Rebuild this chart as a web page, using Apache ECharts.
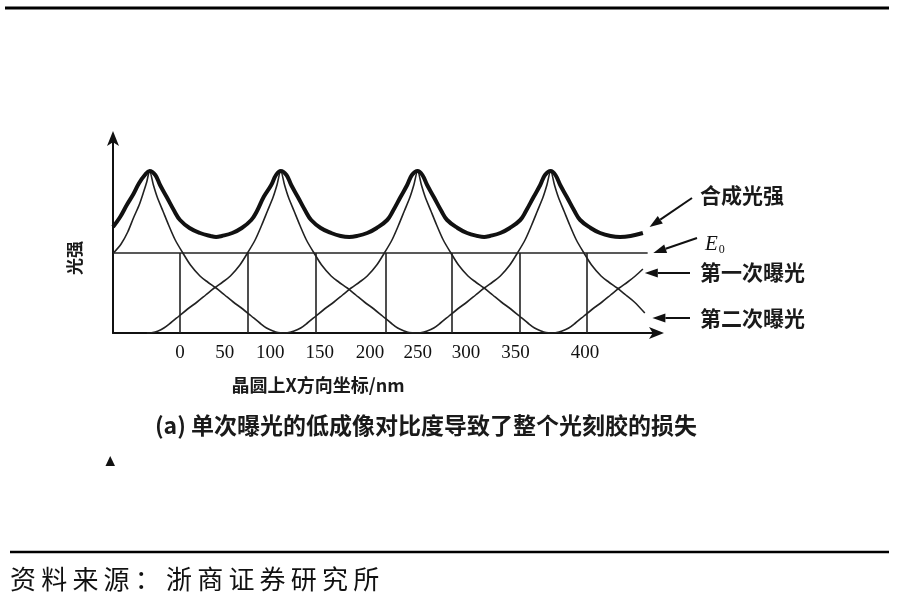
<!DOCTYPE html>
<html>
<head>
<meta charset="utf-8">
<script src="https://cdn.jsdelivr.net/npm/echarts@6/dist/echarts.min.js"></script>
<style>
html,body{margin:0;padding:0;background:#fff;}
#chart{width:908px;height:612px;}
</style>
</head>
<body>
<div id="chart"></div>
<script>
// ---- Data (x: position on wafer in nm, y: light intensity, arbitrary units) ----
const tickPositions = [0, 47, 95, 147, 200, 250, 301, 353, 426];
const tickLabels = ['0', '50', '100', '150', '200', '250', '300', '350', '400'];

const E0 = 80;
const e0Range = [-70.5, 492];
const threshold = [[e0Range[0], E0], [e0Range[1], E0]];

const boundaryX = [0, 71.6, 143, 216, 286, 357, 428];

const combined = [[-70.5,106],[-63,116],[-56,128],[-49,139],[-43,150],[-37,158],[-32,162],[-26,158],[-21,148],[-14,136],[-6,122],[0,113],[10,105],[21,100],[32,97],[38,96],[44,97],[55,100],[65,105],[75,113],[81,122],[88,136],[96,148],[101,158],[106,162],[112,158],[117,148],[124,136],[132,122],[138,113],[148,105],[159,100],[169,97],[178,96],[186,97],[197,100],[207,105],[218,113],[224,122],[232,136],[239,148],[244,158],[250,162],[255,158],[260,148],[267,136],[275,122],[281,113],[292,105],[302,100],[313,97],[320,96],[326,97],[337,100],[347,105],[358,113],[364,122],[372,136],[379,148],[384,158],[390,162],[395,158],[400,148],[407,136],[415,122],[421,113],[432,105],[442,100],[453,97],[463,96],[474,97],[487,100]];

const firstExposure = [[-70,80],[-62,89],[-55,101],[-49,115],[-43,128],[-38,142],[-35,151],[-32,162],[-28,148],[-24,136],[-18,122],[-12,108],[-5,93],[3,80],[11,68],[21,57],[29,51],[38,45],[47,38],[56,31],[66,24],[75,17],[84,10],[91,5],[98,2],[103,0.5],[108,0],[113,0.3],[120,2],[127,5],[134,10],[143,17],[152,24],[162,31],[171,38],[180,45],[189,51],[197,57],[207,68],[215,80],[223,93],[230,108],[236,122],[242,136],[246,148],[250,162],[254,148],[258,136],[264,122],[270,108],[277,93],[285,80],[293,68],[303,57],[311,51],[320,45],[329,38],[338,31],[348,24],[357,17],[366,10],[373,5],[380,2],[385,0.5],[390,0],[395,0.3],[402,2],[409,5],[416,10],[425,17],[434,24],[444,31],[453,38],[462,45],[471,51],[479,57],[487,64]];

const secondExposure = [[-35,0],[-30,0.3],[-23,2],[-17,5],[-10,10],[-1,17],[8,24],[18,31],[27,38],[36,45],[45,51],[53,57],[63,68],[71,80],[79,93],[86,108],[92,122],[98,136],[102,148],[106,162],[110,148],[114,136],[120,122],[126,108],[133,93],[141,80],[149,68],[159,57],[167,51],[176,45],[185,38],[194,31],[204,24],[213,17],[222,10],[229,5],[236,2],[241,0.5],[248,0],[253,0.3],[260,2],[267,5],[274,10],[283,17],[292,24],[302,31],[311,38],[320,45],[329,51],[337,57],[347,68],[355,80],[363,93],[370,108],[376,122],[382,136],[386,148],[390,162],[394,148],[398,136],[404,122],[410,108],[417,93],[425,80],[433,68],[443,57],[451,51],[460,45],[469,38],[478,31],[489,20]];

// annotation arrows: tip in data coords, label text
const annotLabels = ['合成光强', 'E0', '第一次曝光', '第二次曝光'];
const annotTips = [[494,106],[498,80],[489,60],[497,15]];

const CJK = '"Noto Sans CJK SC", "Noto Sans CJK JP", sans-serif';
const SERIF = '"Liberation Serif", "DejaVu Serif", serif';

const chart = echarts.init(document.getElementById('chart'), null, {renderer: 'canvas'});

const option = {
  backgroundColor: '#ffffff',
  animation: false,
  grid: {left: 113, right: 248, top: 135, bottom: 279, containLabel: false},
  xAxis: {
    type: 'value', min: -70.5, max: 505,
    axisLine: {show: true, onZero: false, lineStyle: {color: '#111', width: 2}, symbol: ['none', 'arrow'], symbolSize: [9, 15], symbolOffset: [0, 4]},
    axisTick: {show: false},
    splitLine: {show: false},
    axisLabel: {
      show: true, customValues: tickPositions, margin: 11,
      fontFamily: SERIF, fontSize: 19, color: '#111',
      formatter: function (v) { const i = tickPositions.indexOf(v); return i >= 0 ? tickLabels[i] : ''; }
    }
  },
  yAxis: {
    type: 'value', min: 0, max: 198,
    axisLine: {show: true, onZero: false, lineStyle: {color: '#111', width: 2}, symbol: ['none', 'arrow'], symbolSize: [9, 15], symbolOffset: [0, 4]},
    axisTick: {show: false},
    splitLine: {show: false},
    axisLabel: {show: false}
  },
  series: [
    {
      name: 'E0', type: 'line', data: threshold, symbol: 'none',
      lineStyle: {color: '#222', width: 1.6},
      markLine: {
        symbol: 'none', silent: true, label: {show: false},
        lineStyle: {color: '#222', width: 1.6, type: 'solid'},
        data: boundaryX.map(x => [{coord: [x, 0]}, {coord: [x, E0]}])
      }
    },
    {
      name: '第一次曝光', type: 'line', data: firstExposure, symbol: 'none', smooth: 0.3,
      lineStyle: {color: '#222', width: 1.6}
    },
    {
      name: '第二次曝光', type: 'line', data: secondExposure, symbol: 'none', smooth: 0.3,
      lineStyle: {color: '#222', width: 1.6}
    },
    {
      name: '合成光强', type: 'line', data: combined, symbol: 'none', smooth: 0.4,
      lineStyle: {color: '#111', width: 4}
    }
  ]
};
chart.setOption(option);

// ---- annotations ----
const tails = [[692, 198], [697, 238], [690, 273], [690, 318]];
const textPos = [[700, 195], [705, 244], [700, 272], [700, 318]];
const g = [];

annotTips.forEach((tp, i) => {
  const tip = chart.convertToPixel({gridIndex: 0}, tp);
  const tail = tails[i];
  const dx = tip[0] - tail[0], dy = tip[1] - tail[1];
  const len = Math.sqrt(dx * dx + dy * dy);
  const ux = dx / len, uy = dy / len;
  const hl = 13, hw = 4.5;
  const bx = tip[0] - ux * hl, by = tip[1] - uy * hl;
  g.push({type: 'line', shape: {x1: tail[0], y1: tail[1], x2: bx, y2: by}, style: {stroke: '#111', lineWidth: 2}});
  g.push({type: 'polygon', shape: {points: [[tip[0], tip[1]], [bx - uy * hw, by + ux * hw], [bx + uy * hw, by - ux * hw]]}, style: {fill: '#111'}});
  if (i === 1) {
    g.push({type: 'text', x: textPos[i][0], y: textPos[i][1], style: {
      text: '{e|E}{s|0}', verticalAlign: 'middle', align: 'left',
      rich: {e: {fontFamily: SERIF, fontStyle: 'italic', fontSize: 21, fill: '#111'},
             s: {fontFamily: SERIF, fontSize: 12, fill: '#111', verticalAlign: 'bottom', padding: [12, 0, 0, 1]}}
    }});
  } else {
    g.push({type: 'text', x: textPos[i][0], y: textPos[i][1], style: {
      text: annotLabels[i], fontFamily: CJK, fontSize: 21, fontWeight: 'bold', fill: '#1a1a1a', verticalAlign: 'middle', align: 'left'
    }});
  }
});

// y-axis name (rotated)
g.push({type: 'text', x: 75, y: 258, rotation: Math.PI / 2, style: {
  text: '光强', fontFamily: CJK, fontSize: 17, fontWeight: 'bold', fill: '#1a1a1a', align: 'center', verticalAlign: 'middle'
}});
// x-axis name
g.push({type: 'text', x: 318, y: 385, style: {
  text: '晶圆上X方向坐标/nm', fontFamily: CJK, fontSize: 18, fontWeight: 'bold', fill: '#1a1a1a', align: 'center', verticalAlign: 'middle'
}});
// caption
g.push({type: 'text', x: 426, y: 425, style: {
  text: '(a) 单次曝光的低成像对比度导致了整个光刻胶的损失', fontFamily: CJK, fontSize: 23, fontWeight: 'bold', fill: '#1a1a1a', align: 'center', verticalAlign: 'middle'
}});
// small triangle marker
g.push({type: 'polygon', shape: {points: [[105.5, 466], [115, 466], [110.2, 456]]}, style: {fill: '#111'}});
// top and bottom rules
g.push({type: 'line', shape: {x1: 5, y1: 8, x2: 889, y2: 8}, style: {stroke: '#000', lineWidth: 3}});
g.push({type: 'line', shape: {x1: 10, y1: 552, x2: 889, y2: 552}, style: {stroke: '#000', lineWidth: 2.5}});
// source text
const src = '资料来源：浙商证券研究所';
for (let i = 0; i < src.length; i++) {
  g.push({type: 'text', x: 10 + i * 31.2, y: 579, style: {
    text: src[i], fontFamily: CJK, fontSize: 26, fill: '#111', align: 'left', verticalAlign: 'middle'
  }});
}

chart.setOption({graphic: g});
</script>
</body>
</html>
